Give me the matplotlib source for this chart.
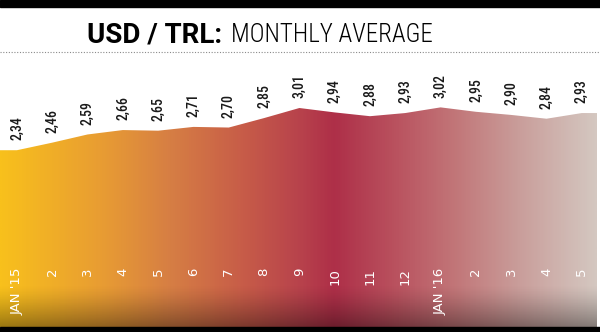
import numpy as np
import matplotlib.pyplot as plt
from matplotlib.colors import LinearSegmentedColormap
from matplotlib.lines import Line2D
from matplotlib.patches import Rectangle

# Monthly average USD/TRL rate, Jan 2015 - May 2016
months = ["JAN '15", "2", "3", "4", "5", "6", "7", "8", "9", "10", "11", "12",
          "JAN '16", "2", "3", "4", "5"]
rates = [2.34, 2.46, 2.59, 2.66, 2.65, 2.71, 2.70, 2.85, 3.01, 2.94, 2.88, 2.93,
         3.02, 2.95, 2.90, 2.84, 2.93]
rate_labels = [f"{v:.2f}".replace(".", ",") for v in rates]

COND = ["Roboto Condensed", "DejaVu Sans"]
SANS = ["Roboto", "DejaVu Sans"]

W, H = 600, 332
fig = plt.figure(figsize=(W / 100, H / 100), dpi=100)
fig.patch.set_facecolor("white")

ax = fig.add_axes([0, 5 / H, 597 / W, (327 - 60) / H])
x = np.arange(len(rates))
x0, x1 = -0.48, 16.43
y0, y1 = -0.466, 3.772
ax.set_xlim(x0, x1)
ax.set_ylim(y0, y1)
ax.axis("off")

# area outline, used as clip path for the gradient fill
poly_x = np.r_[x0, x0, x, x1, x1]
poly_y = np.r_[y0, rates[0], rates, rates[-1], y0]
area = ax.fill(poly_x, poly_y, facecolor="none", edgecolor="none")[0]

stops = [
    (0.00, "#F8C01C"),
    (0.17, "#E89C33"),
    (0.285, "#D67E44"),
    (0.40, "#C85E48"),
    (0.50, "#B8434C"),
    (0.56, "#AE2F48"),
    (0.67, "#BA5460"),
    (0.77, "#C2787A"),
    (0.87, "#C99D9A"),
    (1.00, "#D4C7C0"),
]
cmap = LinearSegmentedColormap.from_list("fx", stops)
grad = np.linspace(0, 1, 600)[None, :]
im = ax.imshow(grad, cmap=cmap, aspect="auto", extent=[x0, x1, y0, y1],
               interpolation="bilinear", zorder=1)
im.set_clip_path(area)

# darker band along the bottom
shade = np.zeros((100, 1, 4))
shade[:, 0, 3] = np.linspace(0, 1, 100) ** 1.3 * 0.38
ax.imshow(shade, aspect="auto", extent=[x0, x1, y0, 0.20],
          interpolation="bilinear", zorder=2)

for xi, v, lbl in zip(x, rates, rate_labels):
    ax.annotate(lbl, (xi, v), xytext=(0, 7), textcoords="offset points",
                rotation=90, ha="center", va="bottom", fontsize=10,
                weight="medium", family=COND, color="#1a1a1a", zorder=3)

for xi, m in zip(x, months):
    ax.text(xi, 0.221, m, transform=ax.get_xaxis_transform(), rotation=90,
            ha="center", va="top", color="white", fontsize=9.5, zorder=3)

# header
fig.add_artist(Rectangle((0, 1 - 7 / H), 1, 7 / H, transform=fig.transFigure,
                         color="black"))
fig.add_artist(Rectangle((0, 0), 1, 5 / H, transform=fig.transFigure,
                         color="black"))
fig.text(222 / W, 1 - 42 / H, "USD / TRL:", ha="right", va="baseline",
         fontsize=20, weight="bold", family=SANS, color="black")
fig.text(231 / W, 1 - 42 / H, "MONTHLY AVERAGE", ha="left", va="baseline",
         fontsize=18, weight="light", family=COND, color="black")
fig.add_artist(Line2D([0, 1], [1 - 52 / H] * 2, transform=fig.transFigure,
                      color="#8a8a8a", linestyle=(0, (1, 1.5)), linewidth=0.8))

fig.savefig("out.png", dpi=100)
